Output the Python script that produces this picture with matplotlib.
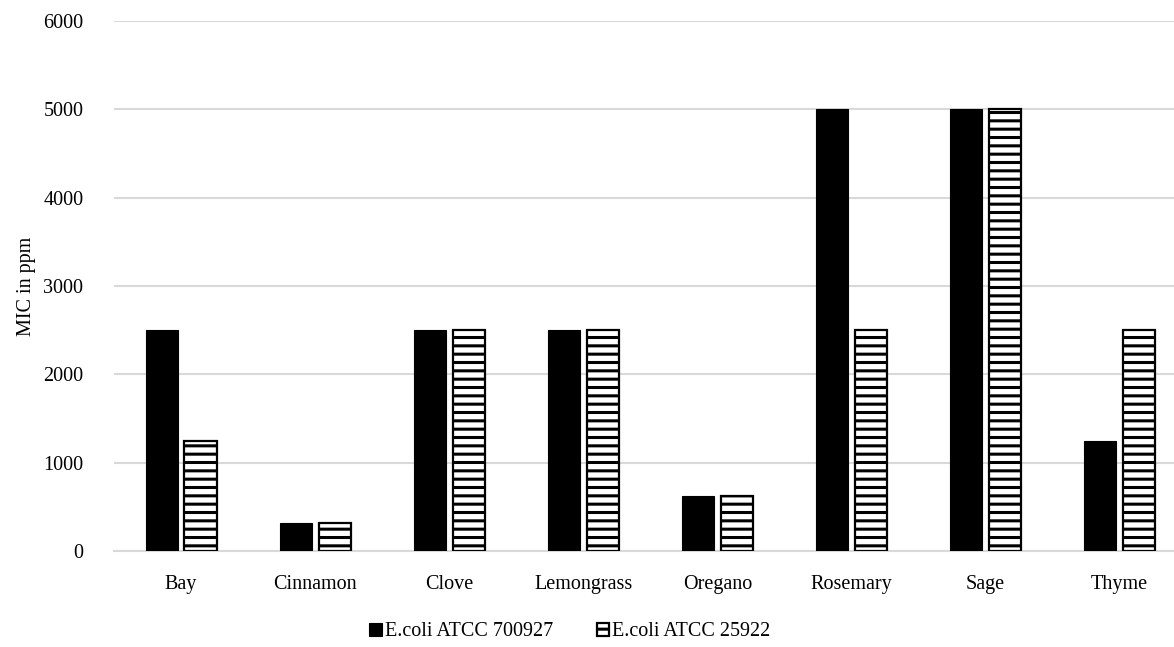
import numpy as np
import matplotlib
matplotlib.use('Agg')
import matplotlib.pyplot as plt

# data
oils = ['Bay', 'Cinnamon', 'Clove', 'Lemongrass', 'Oregano', 'Rosemary', 'Sage', 'Thyme']
mic_700927 = [2500, 312.5, 2500, 2500, 625, 5000, 5000, 1250]
mic_25922 = [1250, 312.5, 2500, 2500, 625, 2500, 5000, 2500]
series_names = ['E.coli ATCC 700927', 'E.coli ATCC 25922']
y_ticks = [0, 1000, 2000, 3000, 4000, 5000, 6000]

plt.rcParams['font.family'] = ['Liberation Serif', 'DejaVu Serif']
plt.rcParams['hatch.linewidth'] = 2.2
plt.rcParams['hatch.color'] = 'black'

fig = plt.figure(figsize=(11.74, 6.47), dpi=100)
# plot area runs a bit past the right edge, as in the original
ax = fig.add_axes([114 / 1174, 96 / 647, 1072.6 / 1174, 530 / 647])

x = np.arange(len(oils))
w = 0.239
ax.bar(x - 0.143, mic_700927, w, color='black', edgecolor='black',
       linewidth=0.8, label=series_names[0], zorder=3)
ax.bar(x + 0.145, mic_25922, w, color='white', edgecolor='black',
       linewidth=1.6, hatch='--', label=series_names[1], zorder=3)

ax.set_xlim(-0.5, len(oils) - 0.5)
ax.set_ylim(0, 6000)
ax.set_yticks(y_ticks)
ax.set_xticks(x)
ax.set_xticklabels(oils)
ax.tick_params(axis='both', length=0, labelsize=14.5, colors='black')
ax.tick_params(axis='x', pad=17)
ax.tick_params(axis='y', pad=22)
ax.yaxis.grid(True, color='#d9d9d9', linewidth=1.5, zorder=0)
ax.set_axisbelow(True)
for s in ['top', 'right', 'left']:
    ax.spines[s].set_visible(False)
ax.spines['bottom'].set_color('#d9d9d9')
ax.spines['bottom'].set_linewidth(1.5)

ax.set_ylabel('MIC in ppm', fontsize=14.5, labelpad=5)

fig.legend(loc='center', bbox_to_anchor=(570 / 1174, 1 - 632 / 647), ncol=2,
           frameon=False, fontsize=14.5, handlelength=0.6, handleheight=0.6,
           handletextpad=0.15, columnspacing=2.2)

fig.savefig('out.png', dpi=100)
